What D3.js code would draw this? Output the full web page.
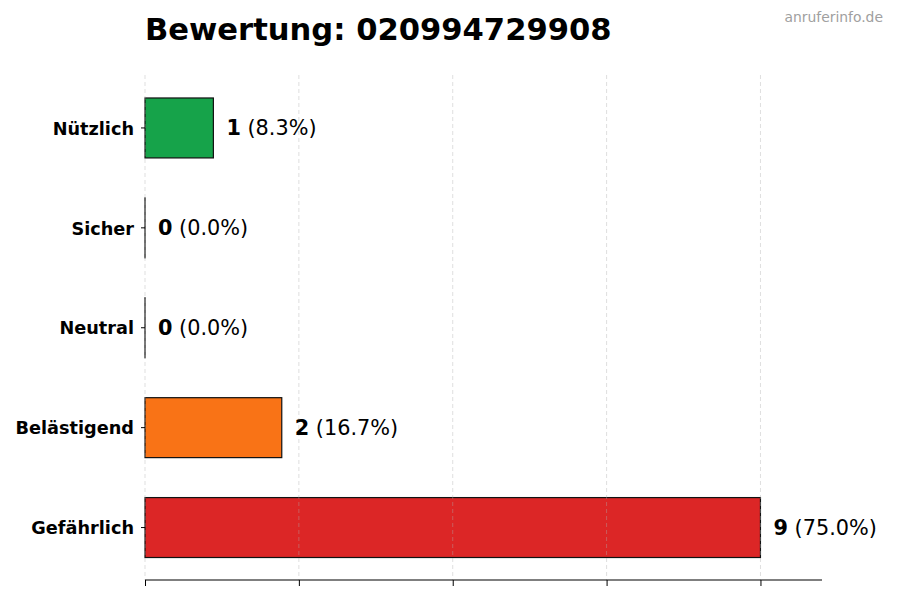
<!DOCTYPE html>
<html>
<head>
<meta charset="utf-8">
<script src="https://cdn.jsdelivr.net/npm/d3@7"></script>
<style>
  body { margin: 0; background: #fff; }
  svg { display: block; font-family: "DejaVu Sans", sans-serif; }
</style>
</head>
<body>
<svg id="chart" width="900" height="600"></svg>
<script>
/* data */
var categories = ["Nützlich", "Sicher", "Neutral", "Belästigend", "Gefährlich"];
var counts = [1, 0, 0, 2, 9];
var percents = ["8.3%", "0.0%", "0.0%", "16.7%", "75.0%"];
var barColors = ["#16a34a", "#16a34a", "#6b7280", "#f97316", "#dc2626"];
var gridTicks = [0, 2.25, 4.5, 6.75, 9];
var phone = "020994729908";

var plotLeft = 145, plotRight = 822, plotTop = 75, plotBottom = 580;
var svg = d3.select("#chart");

var x = d3.scaleLinear().domain([0, 9.9]).range([plotLeft, plotRight]);
var y = d3.scaleBand().domain(categories).range([plotTop + 3, plotBottom - 2.5]).paddingInner(0.4).paddingOuter(0.2);

// title + watermark
svg.append("text").attr("x", plotLeft).attr("y", 40)
	.style("font-size", "30.6px").style("font-weight", "bold")
	.text("Bewertung: " + phone);
svg.append("text").attr("x", 883).attr("y", 22).attr("text-anchor", "end")
	.style("font-size", "13.9px").style("fill", "#a0a0a0")
	.text("anruferinfo.de");

// bars
var rows = categories.map(function(c, i) {
	return { name: c, value: counts[i], pct: percents[i], color: barColors[i] };
});

// zero-width bars still show their edge, like the reference
svg.append("g").selectAll("rect").data(rows).enter().append("rect")
	.attr("x", x(0))
	.attr("y", function(d) { return y(d.name); })
	.attr("width", function(d) { return Math.max(x(d.value) - x(0), 0.01); })
	.attr("height", y.bandwidth())
	.style("fill", function(d) { return d.color; })
	.style("stroke", "#111")
	.style("stroke-width", 1.2);

// grid on top, light
svg.append("g").selectAll("line").data(gridTicks).enter().append("line")
	.attr("x1", function(d) { return x(d); }).attr("x2", function(d) { return x(d); })
	.attr("y1", plotTop).attr("y2", plotBottom)
	.style("stroke", "#b0b0b0").style("stroke-opacity", 0.5)
	.style("stroke-dasharray", "4,3").style("stroke-width", 0.8);

// value labels
var lab = svg.append("g").selectAll("text").data(rows).enter().append("text")
	.attr("x", function(d) { return x(d.value) + 13; })
	.attr("y", function(d) { return y(d.name) + y.bandwidth() / 2; })
	.attr("dy", "0.35em")
	.style("font-size", "20.8px");
lab.append("tspan").style("font-weight", "bold").text(function(d) { return d.value; });
lab.append("tspan").text(function(d) { return " (" + d.pct + ")"; });

// y axis (ticks + labels, no spine)
var yAxis = svg.append("g").attr("transform", "translate(" + plotLeft + ",0)")
	.call(d3.axisLeft(y).tickSize(4).tickPadding(7));
yAxis.select(".domain").remove();
yAxis.selectAll("text").style("font-size", "17.7px").style("font-weight", "bold")
	.style("font-family", "DejaVu Sans").attr("fill", "#000").attr("dy", "0.38em");

// x axis, no labels
var xAxis = svg.append("g").attr("transform", "translate(0," + plotBottom + ")")
	.call(d3.axisBottom(x).tickValues(gridTicks).tickSize(6).tickFormat(""));
xAxis.select(".domain").attr("d", "M" + plotLeft + ",0H" + plotRight).style("stroke-width", 1.2);
</script>
</body>
</html>
